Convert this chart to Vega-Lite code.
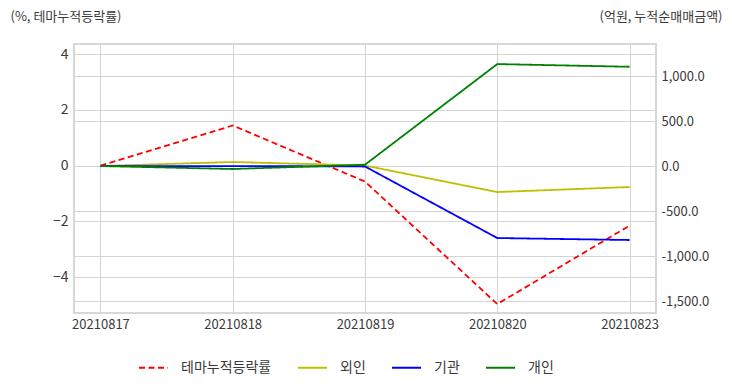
{
  "$schema": "https://vega.github.io/schema/vega-lite/v6.json",
  "width": 582,
  "height": 269,
  "autosize": {"type": "none"},
  "padding": {"left": 74, "top": 44, "right": 76, "bottom": 79},
  "background": "white",
  "config": {
    "font": "Noto Sans CJK KR",
    "view": {"stroke": "#cccccc", "strokeWidth": 1.6},
    "axis": {"labelFont": "Noto Sans CJK KR", "labelFontSize": 13, "labelColor": "#3a3a3a", "gridColor": "#d4d4d4", "gridWidth": 1, "domain": false, "tickSize": 0}
  },
  "data": {
    "values": [
      {"date": "20210817", "series": "테마누적등락률", "value": 0},
      {"date": "20210818", "series": "테마누적등락률", "value": 1.44},
      {"date": "20210819", "series": "테마누적등락률", "value": -0.57},
      {"date": "20210820", "series": "테마누적등락률", "value": -4.96},
      {"date": "20210823", "series": "테마누적등락률", "value": -2.15},
      {"date": "20210817", "series": "외인", "value": 0},
      {"date": "20210818", "series": "외인", "value": 45},
      {"date": "20210819", "series": "외인", "value": 5},
      {"date": "20210820", "series": "외인", "value": -289},
      {"date": "20210823", "series": "외인", "value": -233},
      {"date": "20210817", "series": "기관", "value": 0},
      {"date": "20210818", "series": "기관", "value": 0},
      {"date": "20210819", "series": "기관", "value": -5},
      {"date": "20210820", "series": "기관", "value": -800},
      {"date": "20210823", "series": "기관", "value": -822},
      {"date": "20210817", "series": "개인", "value": 0},
      {"date": "20210818", "series": "개인", "value": -33},
      {"date": "20210819", "series": "개인", "value": 15},
      {"date": "20210820", "series": "개인", "value": 1133},
      {"date": "20210823", "series": "개인", "value": 1103}
    ]
  },
  "encoding": {
    "color": {
      "field": "series", "type": "nominal",
      "scale": {"domain": ["테마누적등락률", "외인", "기관", "개인"], "range": ["#ff0000", "#bfbf00", "#0000ff", "#008000"]},
      "legend": {
        "title": null, "orient": "none", "direction": "horizontal",
        "legendX": 64, "legendY": 308,
        "symbolSize": 841, "symbolStrokeWidth": 2,
        "labelFontSize": 14, "labelColor": "#3a3a3a", "labelOffset": 12,
        "columnPadding": 22
      }
    },
    "strokeDash": {
      "field": "series", "type": "nominal",
      "scale": {"domain": ["테마누적등락률", "외인", "기관", "개인"], "range": [[6, 3.5], [1, 0], [1, 0], [1, 0]]},
      "legend": {
        "title": null, "orient": "none", "direction": "horizontal",
        "legendX": 64, "legendY": 308,
        "symbolSize": 841, "symbolStrokeWidth": 2,
        "labelFontSize": 14, "labelColor": "#3a3a3a", "labelOffset": 12,
        "columnPadding": 22
      }
    }
  },
  "layer": [
    {
      "transform": [{"filter": "datum.series == '테마누적등락률'"}],
      "mark": {"type": "line", "strokeWidth": 1.8},
      "encoding": {
        "x": {
          "field": "date", "type": "ordinal",
          "scale": {"type": "point", "padding": 0.2},
          "axis": {"orient": "bottom", "title": null, "labelAngle": 0, "grid": true, "labelPadding": 5}
        },
        "y": {
          "field": "value", "type": "quantitative",
          "scale": {"domain": [-5.28, 4.36], "nice": false, "zero": false},
          "axis": {
            "orient": "left", "tickCount": 5, "grid": true,
            "labelPadding": 6, "labelFontSize": 14,
            "title": "(%, 테마누적등락률)", "titleAngle": 0, "titleX": -64, "titleY": -28,
            "titleAlign": "left", "titleBaseline": "middle", "titleFontSize": 13, "titleFontWeight": "normal", "titleColor": "#3a3a3a"
          }
        }
      }
    },
    {
      "transform": [{"filter": "datum.series != '테마누적등락률'"}],
      "mark": {"type": "line", "strokeWidth": 1.8},
      "encoding": {
        "x": {
          "field": "date", "type": "ordinal",
          "scale": {"type": "point", "padding": 0.2},
          "axis": {
            "orient": "top", "labels": false, "grid": false, "domain": false,
            "title": "(억원, 누적순매매금액)", "titleAngle": 0, "titleX": 648, "titleY": -28,
            "titleAlign": "right", "titleBaseline": "middle", "titleFontSize": 13, "titleFontWeight": "normal", "titleColor": "#3a3a3a"
          }
        },
        "y": {
          "field": "value", "type": "quantitative",
          "scale": {"domain": [-1633, 1356], "nice": false, "zero": false},
          "axis": {
            "orient": "right", "values": [-1500, -1000, -500, 0, 500, 1000], "grid": true,
            "labelExpr": "replace(format(datum.value, ',.1f'), '\u2212', '-')",
            "labelPadding": 5, "title": null
          }
        }
      }
    }
  ],
  "resolve": {"scale": {"y": "independent"}, "axis": {"x": "independent"}}
}
